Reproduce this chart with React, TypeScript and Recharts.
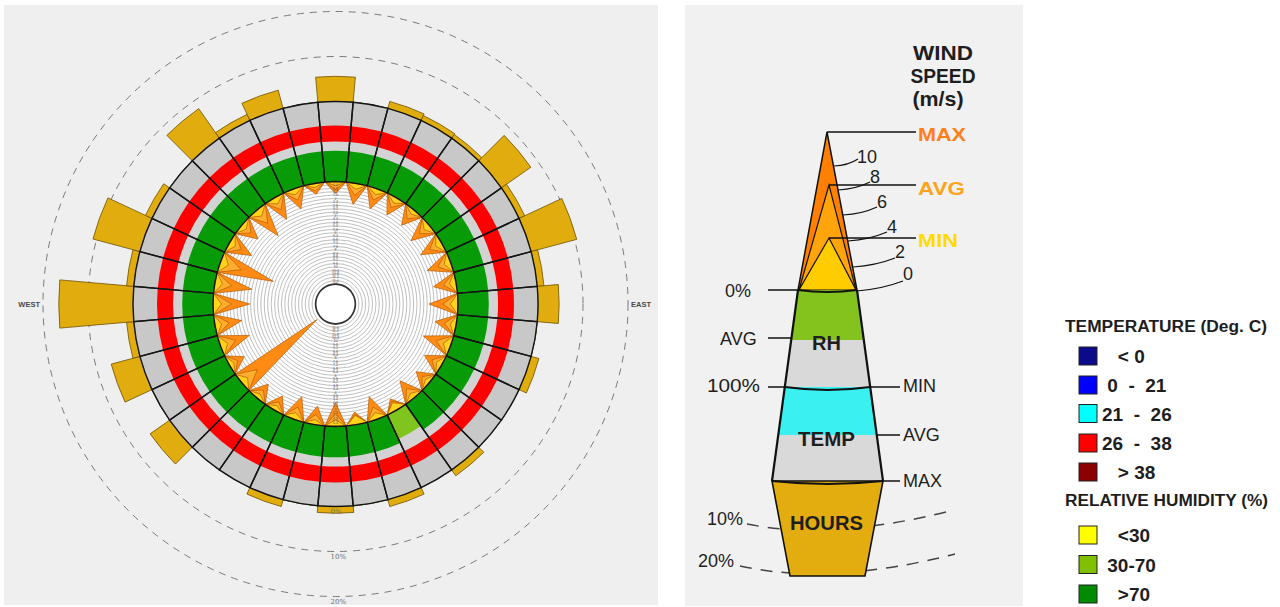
import React from 'react';
import {
  RadialBarChart,
  RadialBar,
  PolarAngleAxis,
  PolarRadiusAxis,
  PolarGrid,
  PieChart,
  Pie,
  Cell,
  RadarChart,
  Radar,
} from 'recharts';

// ---------------- data ----------------
const DIRECTIONS = [0, 10, 20, 30, 40, 50, 60, 70, 80, 90, 100, 110, 120, 130, 140, 150, 160, 170,
  180, 190, 200, 210, 220, 230, 240, 250, 260, 270, 280, 290, 300, 310, 320, 330, 340, 350];

// share of hours (%) with wind from each direction
const HOURS_PCT = [5.6, 0, 1.6, 1.2, 1.0, 8.0, 1.4, 10.5, 1.5, 4.7, 0, 1.8, 0, 0, 1.6, 0, 1.6, 0,
  1.5, 0, 1.6, 0, 0, 5.3, 0, 6.6, 1.6, 16.5, 1.6, 10.8, 1.6, 0, 8.0, 1.5, 4.2, 0];

// average relative humidity (%)
const RH_AVG = [77, 77, 77, 77, 77, 77, 77, 77, 77, 77, 77, 77, 77, 77, 77, 66, 77, 77,
  77, 77, 77, 77, 77, 77, 77, 77, 77, 77, 77, 77, 77, 77, 77, 77, 77, 77];

// temperature (deg C)
const TEMP_MIN = 24;
const TEMP_AVG = 28.4;
const TEMP_MAX = 35;

// wind speed (m/s)
const WIND_MAX = [1.4, 2.5, 2.5, 2.3, 2.3, 2.8, 2.8, 2.9, 2.7, 3.4, 2.5, 3.4, 2.3, 2.0, 2.6, 1.5, 2.8, 1.5,
  2.8, 2.2, 2.8, 1.9, 2.1, 11.5, 2.0, 3.6, 3.2, 4.3, 4.4, 6.6, 3.0, 2.5, 3.9, 2.9, 2.5, 1.3];
const WIND_AVG = [0.9, 1.4, 1.4, 1.3, 1.3, 1.5, 1.6, 1.6, 1.5, 1.8, 1.4, 1.8, 1.3, 1.1, 1.4, 1.2, 1.5, 1.2,
  1.5, 1.2, 1.5, 1.1, 1.2, 2.4, 1.1, 1.9, 1.7, 2.2, 2.0, 2.6, 1.6, 1.4, 2.0, 1.6, 1.4, 0.9];
const WIND_MIN = [0.5, 0.7, 0.7, 0.7, 0.6, 0.8, 0.8, 0.8, 0.8, 0.9, 0.7, 0.9, 0.7, 0.6, 0.7, 1.0, 0.8, 1.1,
  0.8, 0.6, 0.8, 0.6, 0.6, 0.9, 0.6, 0.9, 0.8, 1.0, 0.9, 1.0, 0.8, 0.7, 0.9, 0.8, 0.7, 0.5];

const HOURS_TICKS = [0, 10, 20];
const WIND_TICKS = [0, 0.4, 0.8, 1.2, 1.6, 2, 2.4, 2.8, 3.2, 3.6, 4, 4.4, 4.8, 5.2, 5.6, 6, 6.4, 6.8,
  7.2, 7.6, 8, 8.4, 8.8, 9.2, 9.6, 10, 10.4, 10.8, 11.2, 11.6, 12];
const COMPASS_LABELS = [
  { dir: 90, label: 'EAST' },
  { dir: 270, label: 'WEST' },
];

const TEMP_LEGEND = [
  { label: '   < 0', color: '#0a0a8a' },
  { label: ' 0  -  21', color: '#0000ff' },
  { label: '21  -  26', color: '#00ffff' },
  { label: '26  -  38', color: '#ff0000' },
  { label: '   > 38', color: '#8b0000' },
];
const RH_LEGEND = [
  { label: '   <30', color: '#ffff00' },
  { label: ' 30-70', color: '#80c000' },
  { label: '   >70', color: '#008a00' },
];
const KEY_SPEED_TICKS = ['10', '8', '6', '4', '2', '0'];

// ---------------- styling / layout ----------------
const W = 670;
const H = 607;
const CX = 335.5;
const CY = 304;
const M = { top: 0, right: 0, bottom: 0, left: 0 };
const R_HUB = 20;
const R_WIND = 122.5;
const R_RH = 162.5;
const R_RING = 202.5;
const R_HOURS = 292.5;
// pie sectors: first slice centred on north
const A0 = 95;
const A1 = -265;
// radial-bar band range (bars are drawn one band after the scale start)
const B0 = 85;
const B1 = -275;
const SANS = "'Liberation Sans', Arial, sans-serif";

const MAX_COLOR = '#ff8a14';
const AVG_COLOR = '#ffad2e';
const MIN_COLOR = '#ffd21c';
const WIND_STROKE = '#b55a00';
const HOURS_COLOR = '#e0ac0e';
const GRAY_OUT = '#c8c8c8';
const GRAY_IN = '#d3d3d3';

const rhColor = (v: number) => (v < 30 ? '#ffff00' : v <= 70 ? '#80c51e' : '#079b07');
const tempColor = (v: number) =>
  v < 0 ? '#0a0a8a' : v < 21 ? '#0000ff' : v < 26 ? '#00ffff' : v <= 38 ? '#ff0000' : '#8b0000';

const ringData = DIRECTIONS.map((dir) => ({ dir, v: 1 }));
const hoursData = DIRECTIONS.map((dir, i) => ({ dir, hours: HOURS_PCT[i] }));
const rhData = DIRECTIONS.map((dir, i) => ({ dir, rh: RH_AVG[i] }));
const tempData = DIRECTIONS.map((dir) => ({ dir, t: TEMP_AVG }));
const windData = DIRECTIONS.flatMap((dir, i) => [
  { k: `${dir}`, max: WIND_MAX[i], avg: WIND_AVG[i], min: WIND_MIN[i] },
  { k: `${dir + 5}b`, max: 0, avg: 0, min: 0 },
]);

const layer: React.CSSProperties = { position: 'absolute', left: 0, top: 0, width: W, height: H };

const CompassTick = (p: any) => {
  const item = COMPASS_LABELS.find((c) => String(c.dir) === String(p?.payload?.value));
  if (!item) return <g />;
  return (
    <text x={p.x} y={p.y + 2.5} textAnchor={p.textAnchor} fontSize={7.5} fontWeight={700} fill="#4a4a4a" fontFamily={SANS}>
      {item.label}
    </text>
  );
};

const PctTick = (p: any) => (
  <text x={p.x - 5} y={p.y + 7} fontSize={7} fill="#6e6e6e" fontFamily="'DejaVu Serif', serif">
    {`${p.payload.value}%`}
  </text>
);

const WindTick = (p: any) => (
  <text x={p.x} y={p.y + 1.3} textAnchor="middle" fontSize={3.6} fill="#555" fontFamily={SANS}>
    {p.payload.value}
  </text>
);

const makeTriangles = (fill: string) => (props: any) => {
  const pts = (props && props.points) || [];
  const n = pts.length;
  const polys: React.ReactNode[] = [];
  for (let i = 0; i < n; i += 2) {
    const a = pts[(i - 1 + n) % n];
    const b = pts[i];
    const c = pts[(i + 1) % n];
    polys.push(
      <polygon
        key={i}
        points={`${a.x},${a.y} ${b.x},${b.y} ${c.x},${c.y}`}
        fill={fill}
        stroke={WIND_STROKE}
        strokeWidth={0.7}
        strokeLinejoin="round"
      />,
    );
  }
  return <g>{polys}</g>;
};

function HoursChart() {
  return (
    <RadialBarChart width={W} height={H} cx={CX} cy={CY} innerRadius={R_RING} outerRadius={R_HOURS}
      startAngle={B0} endAngle={B1} layout="centric" data={hoursData} barCategoryGap={0} barGap={0} margin={M}>
      <PolarGrid gridType="circle" radialLines={false} stroke="#7a7a7a" strokeDasharray="7 6" />
      <PolarAngleAxis type="category" dataKey="dir" axisLine={false} tickLine={false} tick={false} />
      <PolarRadiusAxis type="number" domain={[0, 20]} ticks={HOURS_TICKS} angle={-90} axisLine={false} tickLine={false} tick={PctTick} />
      <RadialBar dataKey="hours" fill={HOURS_COLOR} stroke="#6f5200" strokeWidth={0.8} isAnimationActive={false} />
    </RadialBarChart>
  );
}

function BaseRings() {
  return (
    <PieChart width={W} height={H} margin={M}>
      <Pie data={[{ v: 1 }]} dataKey="v" cx={CX} cy={CY} innerRadius={0} outerRadius={R_WIND} fill="#ffffff" stroke="none" isAnimationActive={false} />
      <Pie data={ringData} dataKey="v" cx={CX} cy={CY} innerRadius={R_WIND} outerRadius={R_RH} startAngle={A0} endAngle={A1} fill={GRAY_IN} stroke="none" isAnimationActive={false} />
      <Pie data={ringData} dataKey="v" cx={CX} cy={CY} innerRadius={R_RH} outerRadius={R_RING} startAngle={A0} endAngle={A1} fill={GRAY_OUT} stroke="none" isAnimationActive={false} />
    </PieChart>
  );
}

function RhRing() {
  return (
    <RadialBarChart width={W} height={H} cx={CX} cy={CY} innerRadius={R_WIND} outerRadius={R_RH}
      startAngle={B0} endAngle={B1} layout="centric" data={rhData} barCategoryGap={0} barGap={0} margin={M}>
      <PolarAngleAxis type="category" dataKey="dir" axisLine={false} tickLine={false} tick={false} />
      <PolarRadiusAxis type="number" domain={[0, 100]} axisLine={false} tickLine={false} tick={false} />
      <RadialBar dataKey="rh" stroke="none" isAnimationActive={false}>
        {rhData.map((d, i) => (
          <Cell key={i} fill={rhColor(d.rh)} />
        ))}
      </RadialBar>
    </RadialBarChart>
  );
}

function TempRing() {
  return (
    <RadialBarChart width={W} height={H} cx={CX} cy={CY} innerRadius={R_RH} outerRadius={R_RING}
      startAngle={B0} endAngle={B1} layout="centric" data={tempData} barCategoryGap={0} barGap={0} margin={M}>
      <PolarAngleAxis type="category" dataKey="dir" axisLine={false} tickLine={false} tick={false} />
      <PolarRadiusAxis type="number" domain={[TEMP_MIN, TEMP_MAX]} axisLine={false} tickLine={false} tick={false} />
      <RadialBar dataKey="t" stroke="none" isAnimationActive={false}>
        {tempData.map((d, i) => (
          <Cell key={i} fill={tempColor(d.t)} />
        ))}
      </RadialBar>
    </RadialBarChart>
  );
}

function WindStars() {
  return (
    <RadarChart width={W} height={H} cx={CX} cy={CY} innerRadius={R_HUB} outerRadius={R_WIND}
      startAngle={90} endAngle={-270} data={windData} margin={M}>
      <PolarGrid gridType="circle" radialLines={false} stroke="#949494" strokeWidth={0.6} />
      <PolarAngleAxis dataKey="k" axisLine={false} tickLine={false} tickSize={R_HOURS + 3 - R_WIND} tick={CompassTick} />
      <PolarRadiusAxis type="number" domain={[0, 12]} reversed ticks={WIND_TICKS} angle={90} axisLine={false} tickLine={false} tick={WindTick} />
      <Radar dataKey="max" shape={makeTriangles(MAX_COLOR)} isAnimationActive={false} />
      <Radar dataKey="avg" shape={makeTriangles(AVG_COLOR)} isAnimationActive={false} />
      <Radar dataKey="min" shape={makeTriangles(MIN_COLOR)} isAnimationActive={false} />
    </RadarChart>
  );
}

// second column of wind-speed tick labels, below the hub
function WindLowerLabels() {
  return (
    <RadarChart width={W} height={H} cx={CX} cy={CY} innerRadius={R_HUB} outerRadius={R_WIND}
      startAngle={90} endAngle={-270} data={windData} margin={M}>
      <PolarAngleAxis dataKey="k" axisLine={false} tickLine={false} tick={false} />
      <PolarRadiusAxis type="number" domain={[0, 12]} reversed ticks={WIND_TICKS} angle={-90} axisLine={false} tickLine={false} tick={WindTick} />
      <Radar dataKey="max" stroke="none" fill="none" isAnimationActive={false} />
    </RadarChart>
  );
}

function Outlines() {
  return (
    <PieChart width={W} height={H} margin={M}>
      <Pie data={ringData} dataKey="v" cx={CX} cy={CY} innerRadius={R_WIND} outerRadius={R_RING} startAngle={A0} endAngle={A1} fill="none" stroke="#151515" strokeWidth={1.4} isAnimationActive={false} />
      <Pie data={[{ v: 1 }]} dataKey="v" cx={CX} cy={CY} innerRadius={0} outerRadius={R_HUB - 0.5} fill="#ffffff" stroke="none" isAnimationActive={false} />
      <Pie data={[{ v: 1 }]} dataKey="v" cx={CX} cy={CY} innerRadius={R_HUB - 1} outerRadius={R_HUB + 0.7} fill="#333333" stroke="none" isAnimationActive={false} />
    </PieChart>
  );
}

const T = { fontFamily: SANS, fill: '#1e1e1e' };

function StaticArt() {
  const leaders = [
    [834, 166, 858, 159],
    [838, 190, 870, 182],
    [843, 215, 877, 207],
    [848, 241, 887, 232],
    [853, 267, 895, 258],
    [857, 291, 903, 281],
  ];
  const tickPos = [
    [857, 163],
    [870, 183],
    [877, 208],
    [887, 233],
    [895, 258],
    [903, 280],
  ];
  const tempRowY = [347, 376, 404.5, 434, 463];
  const rhRowY = [526, 555.5, 585];
  return (
    <svg width={1280} height={607} style={{ position: 'absolute', left: 0, top: 0 }}>
      <rect x={0} y={0} width={1280} height={607} fill="#ffffff" />
      <rect x={4} y={5} width={654} height={600} fill="#efefef" />
      <rect x={685} y={5} width={338} height={601} fill="#f1f1f1" />

      {/* ---- key diagram ---- */}
      <path d="M 747 524 Q 830 541 950 511" stroke="#444" strokeWidth={1.5} strokeDasharray="12 9" fill="none" />
      <path d="M 740 566 Q 830 586 955 554" stroke="#444" strokeWidth={1.5} strokeDasharray="12 9" fill="none" />

      <polygon points="827,132 798,290 857,290" fill="#ff8000" stroke="#111" strokeWidth={1.5} />
      <polygon points="829,185 799,290 856,290" fill="#ffa40a" stroke="#111" strokeWidth={1.2} />
      <polygon points="829,238 799,290 856,290" fill="#ffcc00" stroke="#111" strokeWidth={1.2} />
      <line x1={827} y1={132} x2={916} y2={132} stroke="#111" strokeWidth={1.5} />
      <line x1={829} y1={185} x2={916} y2={185} stroke="#111" strokeWidth={1.5} />
      <line x1={829} y1={238} x2={916} y2={238} stroke="#111" strokeWidth={1.5} />
      {leaders.map(([x1, y1, x2, y2], i) => (
        <path key={i} d={`M ${x1} ${y1} Q ${(x1 + x2) / 2 + 2} ${(y1 + y2) / 2 + 3} ${x2} ${y2}`} stroke="#111" strokeWidth={1.2} fill="none" />
      ))}
      {KEY_SPEED_TICKS.map((t, i) => (
        <text key={t} x={tickPos[i][0]} y={tickPos[i][1]} fontSize={18} {...T}>{t}</text>
      ))}

      <text x={943} y={60} textAnchor="middle" fontSize={21} fontWeight={700} textLength={60} lengthAdjust="spacingAndGlyphs" {...T}>WIND</text>
      <text x={943} y={83} textAnchor="middle" fontSize={21} fontWeight={700} textLength={65} lengthAdjust="spacingAndGlyphs" {...T}>SPEED</text>
      <text x={938} y={106} textAnchor="middle" fontSize={21} fontWeight={700} textLength={51} lengthAdjust="spacingAndGlyphs" {...T}>(m/s)</text>
      <text x={918} y={141} fontSize={19} fontWeight={700} fill="#ff7f1a" fontFamily={SANS} textLength={48} lengthAdjust="spacingAndGlyphs">MAX</text>
      <text x={918} y={195} fontSize={19} fontWeight={700} fill="#ffa31a" fontFamily={SANS} textLength={47} lengthAdjust="spacingAndGlyphs">AVG</text>
      <text x={918} y={247} fontSize={19} fontWeight={700} fill="#ffdc00" fontFamily={SANS} textLength={40} lengthAdjust="spacingAndGlyphs">MIN</text>

      {/* RH */}
      <polygon points="798,290 857,290 863.7,340 791.3,340" fill="#84c21e" />
      <polygon points="791.3,340 863.7,340 870,387 785,387" fill="#d9d9d9" />
      {/* TEMP */}
      <polygon points="785,387 870,387 876.6,435 778.4,435" fill="#3af0f0" />
      <polygon points="778.4,435 876.6,435 883,481 772,481" fill="#d9d9d9" />
      {/* HOURS */}
      <polygon points="772,481 883,481 865,576 790,576" fill="#e3ad10" stroke="#111" strokeWidth={1.6} />
      <line x1={798} y1={290} x2={772} y2={481} stroke="#111" strokeWidth={2.2} />
      <line x1={857} y1={290} x2={883} y2={481} stroke="#111" strokeWidth={2.2} />
      <path d="M 798 290 Q 827.5 294 857 290" stroke="#111" strokeWidth={2} fill="none" />
      <path d="M 785 387 Q 827.5 393 870 387" stroke="#111" strokeWidth={2.2} fill="none" />
      <path d="M 772 481 Q 827.5 487 883 481" stroke="#111" strokeWidth={2.2} fill="none" />

      <line x1={768} y1={290} x2={798} y2={290} stroke="#111" strokeWidth={1.5} />
      <line x1={768} y1={338} x2={791} y2={338} stroke="#111" strokeWidth={1.5} />
      <line x1={768} y1={387} x2={785} y2={387} stroke="#111" strokeWidth={1.5} />
      <line x1={870} y1={387} x2={900} y2={387} stroke="#111" strokeWidth={1.5} />
      <line x1={877} y1={435} x2={900} y2={435} stroke="#111" strokeWidth={1.5} />
      <line x1={883} y1={481} x2={900} y2={481} stroke="#111" strokeWidth={1.5} />

      <text x={826.5} y={350} textAnchor="middle" fontSize={20} fontWeight={700} {...T}>RH</text>
      <text x={826.5} y={446} textAnchor="middle" fontSize={20} fontWeight={700} textLength={57} lengthAdjust="spacingAndGlyphs" {...T}>TEMP</text>
      <text x={826.5} y={530} textAnchor="middle" fontSize={20} fontWeight={700} textLength={73} lengthAdjust="spacingAndGlyphs" {...T}>HOURS</text>

      <text x={725} y={297} fontSize={18} {...T}>0%</text>
      <text x={720} y={345} fontSize={18} {...T}>AVG</text>
      <text x={707} y={392} fontSize={18} textLength={53} lengthAdjust="spacingAndGlyphs" {...T}>100%</text>
      <text x={903} y={392} fontSize={18} {...T}>MIN</text>
      <text x={903} y={441} fontSize={18} {...T}>AVG</text>
      <text x={903} y={487} fontSize={18} {...T}>MAX</text>
      <text x={707} y={525} fontSize={18} {...T}>10%</text>
      <text x={698} y={567} fontSize={18} {...T}>20%</text>

      {/* ---- colour legend ---- */}
      <text x={1065} y={332} fontSize={16} fontWeight={700} textLength={202} lengthAdjust="spacingAndGlyphs" {...T}>TEMPERATURE (Deg. C)</text>
      {TEMP_LEGEND.map((it, i) => (
        <g key={it.label}>
          <rect x={1079} y={tempRowY[i]} width={18} height={18} fill={it.color} stroke="#222" strokeWidth={1} />
          <text x={1102} y={tempRowY[i] + 16} fontSize={19} fontWeight={700} xmlSpace="preserve" style={{ whiteSpace: 'pre' }} {...T}>{it.label}</text>
        </g>
      ))}
      <text x={1065} y={506} fontSize={16} fontWeight={700} textLength={203} lengthAdjust="spacingAndGlyphs" {...T}>RELATIVE HUMIDITY (%)</text>
      {RH_LEGEND.map((it, i) => (
        <g key={it.label}>
          <rect x={1079} y={rhRowY[i]} width={18} height={18} fill={it.color} stroke="#222" strokeWidth={1} />
          <text x={1102} y={rhRowY[i] + 16} fontSize={19} fontWeight={700} xmlSpace="preserve" style={{ whiteSpace: 'pre' }} {...T}>{it.label}</text>
        </g>
      ))}
    </svg>
  );
}

export default function App() {
  return (
    <div style={{ position: 'absolute', left: 0, top: 0, width: 1280, height: 607, overflow: 'hidden', background: '#fff' }}>
      <StaticArt />
      <div style={layer}><HoursChart /></div>
      <div style={layer}><BaseRings /></div>
      <div style={layer}><RhRing /></div>
      <div style={layer}><TempRing /></div>
      <div style={layer}><WindStars /></div>
      <div style={layer}><WindLowerLabels /></div>
      <div style={layer}><Outlines /></div>
    </div>
  );
}
